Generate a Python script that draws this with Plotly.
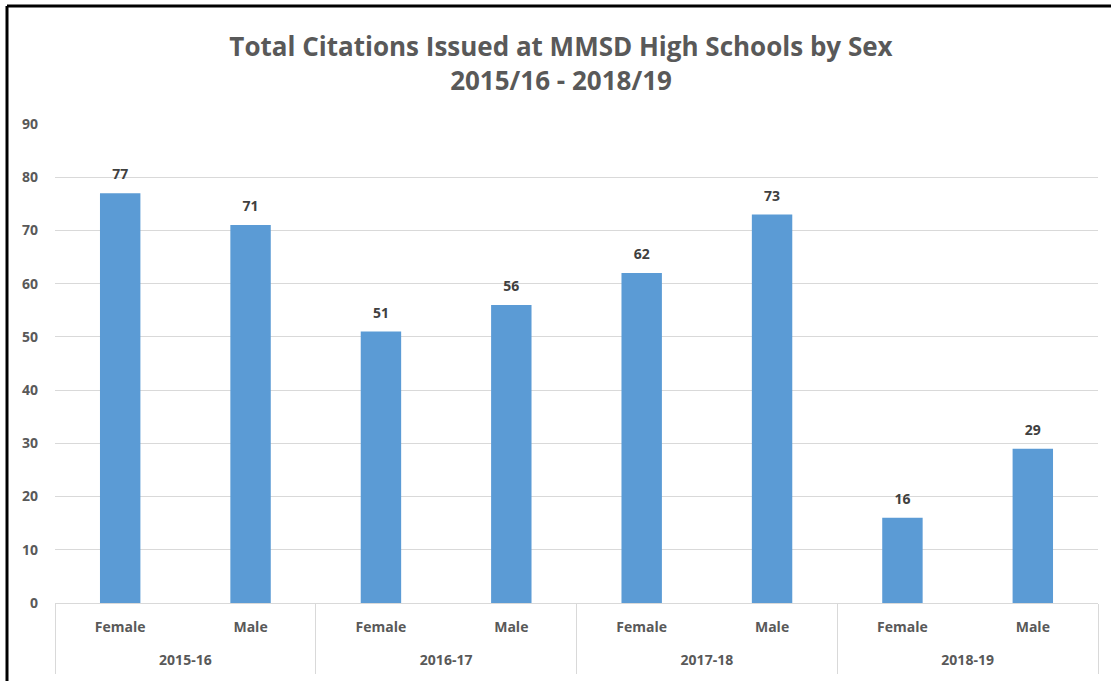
import plotly.graph_objects as go

years = ["2015-16", "2015-16", "2016-17", "2016-17", "2017-18", "2017-18", "2018-19", "2018-19"]
sexes = ["Female", "Male", "Female", "Male", "Female", "Male", "Female", "Male"]
citations = [77, 71, 51, 56, 62, 73, 16, 29]
y_ticks = [0, 10, 20, 30, 40, 50, 60, 70, 80, 90]

year_labels = list(dict.fromkeys(years))
pos = list(range(len(sexes)))
year_pos = [sum(i for i, y in enumerate(years) if y == yl) / years.count(yl) for yl in year_labels]
bounds = [-0.5] + [i + 0.5 for i in range(len(years) - 1) if years[i] != years[i + 1]] + [len(years) - 0.5]

FONT = "Open Sans"
W, H = 1111, 681
L, R, T, B = 55, 1098, 124, 603
GRAY = "#595959"
LINE = "#D9D9D9"

fig = go.Figure()
fig.add_trace(go.Bar(
    x=pos, y=citations,
    marker=dict(color="#5B9BD5", line=dict(width=0)),
    width=0.31,
    hoverinfo="skip",
))
fig.add_trace(go.Scatter(
    x=pos, y=citations,
    mode="markers+text",
    marker=dict(size=15, opacity=0),
    text=[str(v) for v in citations],
    textposition="top center",
    textfont=dict(family=FONT, size=14, color="#404040", weight="bold"),
    cliponaxis=False,
    hoverinfo="skip",
))
# invisible trace to activate the outer category axis
fig.add_trace(go.Scatter(x=year_pos, y=[None] * len(year_pos), xaxis="x2", showlegend=False,
                         hoverinfo="skip", mode="markers"))

tickfont = dict(family=FONT, size=14, color=GRAY, weight="bold")

fig.update_layout(
    width=W, height=H,
    margin=dict(l=L, r=W - R, t=T, b=H - B, autoexpand=False),
    paper_bgcolor="white", plot_bgcolor="white",
    showlegend=False,
    title=dict(
        text="Total Citations Issued at MMSD High Schools by Sex<br>2015/16 - 2018/19",
        x=561 / W, xanchor="center", xref="container",
        y=1 - 56 / H, yanchor="middle", yref="container",
        font=dict(family=FONT, size=26, color=GRAY, weight="bold"),
    ),
    xaxis=dict(
        range=[-0.5, len(pos) - 0.5],
        tickvals=pos, ticktext=sexes,
        showgrid=False, zeroline=False,
        showline=True, linecolor=LINE, linewidth=1,
        ticks="", tickfont=tickfont,
        ticklabelstandoff=11,
        minor=dict(tickvals=bounds, ticks="outside", ticklen=70, tickcolor=LINE, tickwidth=1, showgrid=False),
    ),
    xaxis2=dict(
        overlaying="x", side="bottom", anchor="y",
        range=[-0.5, len(pos) - 0.5],
        tickvals=year_pos, ticktext=year_labels,
        showgrid=False, zeroline=False, showline=False,
        ticks="", tickfont=tickfont,
        ticklabelstandoff=47,
    ),
    yaxis=dict(
        range=[0, 90],
        tickvals=y_ticks,
        showgrid=True, gridcolor=LINE, gridwidth=1,
        zeroline=False, showline=False,
        tickfont=tickfont,
        ticklabelstandoff=16,
    ),
    shapes=[
        dict(type="line", xref="paper", yref="paper",
             x0=(7 - L) / (R - L), x1=(W + 5 - L) / (R - L),
             y0=(B - 6) / (B - T), y1=(B - 6) / (B - T),
             line=dict(color="black", width=3)),
        dict(type="line", xref="paper", yref="paper",
             x0=(7 - L) / (R - L), x1=(7 - L) / (R - L),
             y0=(B - 6) / (B - T), y1=(B - H - 5) / (B - T),
             line=dict(color="black", width=3)),
    ],
)

fig.write_html("out.html", config={"displayModeBar": False},
               post_script="document.body.style.margin='0';document.body.style.overflow='hidden';")
